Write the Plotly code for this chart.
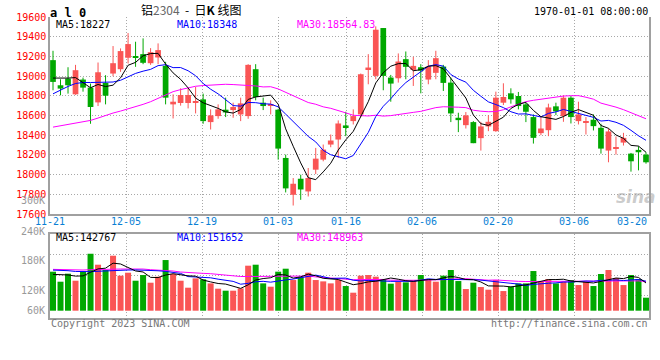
import plotly.graph_objects as go

# ---------------- data ----------------
tick_labels = ["11-21", "12-05", "12-19", "01-03", "01-16", "02-06", "02-20", "03-06", "03-20"]
tick_index = [0, 10, 20, 30, 39, 49, 59, 69, 79]

opens = [19162, 18907, 18975, 18815, 18965, 18883, 18733, 18931, 19026, 19070,
         19186, 19203, 19223, 19131, 19189, 19104, 18713, 18727, 18727, 18733,
         18764, 18533, 18594, 18659, 18655, 18611, 18594, 19070, 18730, 18699,
         18659, 18169, 17795, 17958, 17829, 18050, 18152, 18305, 18356, 18499,
         18543, 18611, 19067, 19002, 19488, 18985, 18978, 19172, 19063, 19090,
         18965, 19033, 19097, 18934, 18577, 18502, 18533, 18370, 18489, 18441,
         18730, 18825, 18798, 18713, 18584, 18421, 18451, 18693, 18594, 18781,
         18543, 18529, 18557, 18475, 18244, 18268, 18325, 18213, 18251, 18203]
highs = [19257, 18968, 19090, 19114, 18985, 18924, 19138, 19009, 19305, 19281,
         19437, 19349, 19383, 19284, 19332, 19145, 18815, 18876, 18876, 18890,
         18822, 18662, 18713, 18781, 18730, 18781, 19121, 19121, 18781, 18754,
         18669, 18203, 17965, 17999, 18067, 18271, 18305, 18407, 18550, 18638,
         18662, 19026, 19223, 19505, 19488, 19012, 19230, 19250, 19196, 19121,
         19162, 19257, 19114, 18985, 18628, 18635, 18543, 18536, 18604, 18842,
         18927, 18876, 18839, 18730, 18611, 18594, 18720, 18730, 18805, 18798,
         18740, 18584, 18611, 18516, 18468, 18387, 18424, 18220, 18288, 18227]
lows = [18856, 18805, 18822, 18810, 18842, 18516, 18696, 18713, 18999, 19043,
        19128, 19094, 19121, 19114, 19121, 18713, 18570, 18700, 18672, 18621,
        18516, 18458, 18567, 18584, 18577, 18543, 18567, 18754, 18655, 18611,
        18152, 17819, 17686, 17744, 17778, 18006, 18135, 18278, 18169, 18390,
        18509, 18584, 18917, 18968, 18856, 18740, 18934, 18968, 18900, 18825,
        18917, 18968, 18849, 18533, 18431, 18468, 18319, 18244, 18441, 18434,
        18706, 18720, 18662, 18533, 18315, 18400, 18390, 18604, 18536, 18519,
        18509, 18407, 18448, 18213, 18125, 18203, 18295, 18030, 18043, 18111]
closes = [18941, 18873, 18907, 19060, 18883, 18686, 19039, 18801, 19131, 19254,
          19325, 19186, 19135, 19243, 19264, 18781, 18740, 18808, 18808, 18747,
          18543, 18601, 18662, 18631, 18686, 18723, 19114, 18788, 18696, 18713,
          18264, 17860, 17907, 17849, 17965, 18162, 18254, 18346, 18519, 18482,
          18594, 19019, 19087, 19471, 19002, 18924, 19148, 19094, 19104, 19056,
          19097, 19182, 18931, 18621, 18553, 18601, 18319, 18489, 18536, 18781,
          18788, 18764, 18696, 18638, 18373, 18468, 18682, 18642, 18781, 18584,
          18611, 18543, 18492, 18264, 18438, 18274, 18373, 18135, 18227, 18125]
volumes = [200800, 149300, 190500, 154400, 200800, 293400, 236800, 209400, 283100, 180200,
           195600, 154400, 183600, 144100, 175000, 260800, 188800, 154400, 118400, 166500,
           161300, 140700, 113300, 103000, 103000, 115000, 231700, 236800, 140700, 123600,
           200800, 216200, 157900, 171600, 195600, 157900, 151000, 140700, 157900, 127000,
           92700, 180200, 183600, 175000, 163000, 139000, 149300, 145900, 157900, 183600,
           163000, 149300, 180200, 209400, 152700, 111500, 144100, 121800, 108100, 157900,
           101200, 123600, 140700, 140700, 204200, 152700, 163000, 140700, 149300, 157900,
           132100, 147600, 127000, 188800, 209400, 168200, 132100, 183600, 163000, 66900]

# moving-average values at the start of the window (read off the picture,
# they depend on sessions before 11-21)
ma5_head = [18980, 18978, 18980, 18985]
ma10_head = [18820, 18860, 18895, 18925, 18935, 18935, 18935, 18935, 18940]
ma30_head = [18482, 18495, 18509, 18523, 18536, 18550, 18574, 18601, 18625, 18645,
             18666, 18689, 18713, 18740, 18774, 18808, 18842, 18863, 18883, 18897,
             18904, 18910, 18914, 18917, 18914, 18910, 18907, 18900, 18890]
vol_ma5_head = [187000, 185000, 184000, 178000]
vol_ma10_head = [209000, 208000, 206000, 202000, 200000, 201000, 203000, 205000, 207000]
vol_ma30_head = [212800, 211100, 209400, 209400, 209400, 211100, 212800, 214500, 214500, 214500,
                 214500, 216200, 214500, 211100, 209400, 207600, 204200, 199100, 195600, 193900,
                 192200, 190500, 187000, 181900, 178500, 176000, 176000, 176000, 176500]

price_legend = ["MA5:18227", "MA10:18348", "MA30:18564.83"]
volume_legend = ["MA5:142767", "MA10:151652", "MA30:148963"]
price_ticks = [17600, 17800, 18000, 18200, 18400, 18600, 18800, 19000, 19200, 19400, 19600]
volume_labels = ["300K", "240K", "180K", "120K", "60K"]

# ---------------- helpers ----------------
RED = "#fa5555"
GREEN = "#00a800"
GRID = "#a8a8a8"
BORDER = "#a0a0a0"
MONO = "DejaVu Sans Mono"

W, H = 660, 360
ML, MR, MT, MB = 50, 11, 17, 42
PW, PH = W - ML - MR, H - MT - MB


def px_x(px):
    return (px - ML) / PW


def px_y(py):
    return (H - MB - py) / PH


def moving_average(values, n, head):
    out = list(head)
    for i in range(len(head), len(values)):
        window = values[i - n + 1:i + 1]
        out.append(sum(window) / n)
    return out


n = len(closes)
xs = list(range(n))
up = [c >= o for o, c in zip(opens, closes)]
colors = [RED if u else GREEN for u in up]

ma5 = moving_average(closes, 5, ma5_head)
ma10 = moving_average(closes, 10, ma10_head)
ma30 = moving_average(closes, 30, ma30_head)
vma5 = moving_average(volumes, 5, vol_ma5_head)
vma10 = moving_average(volumes, 10, vol_ma10_head)
vma30 = moving_average(volumes, 30, vol_ma30_head)

fig = go.Figure()

# wicks
for flag, col in ((True, RED), (False, GREEN)):
    wx, wy = [], []
    for i in xs:
        if up[i] == flag:
            wx += [i, i, None]
            wy += [lows[i], highs[i], None]
    fig.add_trace(go.Scatter(x=wx, y=wy, mode="lines", line=dict(color=col, width=1),
                             hoverinfo="skip", xaxis="x", yaxis="y"))

# bodies
body_base = [min(o, c) for o, c in zip(opens, closes)]
body_h = [max(abs(c - o), 10) for o, c in zip(opens, closes)]
fig.add_trace(go.Bar(x=xs, y=body_h, base=body_base, width=0.76,
                     marker=dict(color=colors, line=dict(width=0)),
                     xaxis="x", yaxis="y"))

# price MAs
for ser, col in ((ma30, "#ff00ff"), (ma10, "#0000ff"), (ma5, "#000000")):
    fig.add_trace(go.Scatter(x=xs, y=ser, mode="lines", line=dict(color=col, width=1),
                             xaxis="x", yaxis="y"))

# volume
fig.add_trace(go.Bar(x=xs, y=volumes, width=0.8,
                     marker=dict(color=colors, line=dict(width=0)),
                     xaxis="x2", yaxis="y2"))
for ser, col in ((vma30, "#ff00ff"), (vma10, "#0000ff"), (vma5, "#000000")):
    fig.add_trace(go.Scatter(x=xs, y=ser, mode="lines", line=dict(color=col, width=1),
                             xaxis="x2", yaxis="y2"))

# ---------------- layout ----------------
grid_x = [i * 7.6 / 7.506 - 0.4 for i in tick_index]
xrange = [-0.4, 79.4]
main_dom = [px_y(214), 1.0]
vol_dom = [0.0, px_y(234.3)]

common_x = dict(range=xrange, tickvals=grid_x, showticklabels=False, showgrid=True,
                gridcolor=GRID, griddash="1px,2px", gridwidth=1, zeroline=False,
                showline=True, linecolor=BORDER, linewidth=1.5, ticks="", fixedrange=True,
                automargin=False)

annotations = []
# date labels
for k, (lab, gx) in enumerate(zip(tick_labels, grid_x)):
    last = k == len(tick_labels) - 1
    annotations.append(dict(x=min(gx, xrange[1]), xref="x", y=px_y(221.7), yref="paper",
                            text=lab, showarrow=False, xanchor="right" if last else "center",
                            yanchor="middle",
                            font=dict(family=MONO, size=10, color="#0a7fd4")))
# volume axis labels
for lab, py in zip(volume_labels, [200.7, 231.0, 260.3, 290.3, 310.3]):
    annotations.append(dict(x=px_x(47), xref="paper", xanchor="right",
                            y=px_y(py), yref="paper", yanchor="middle",
                            text=lab, showarrow=False,
                            font=dict(family=MONO, size=10, color="#999999")))

# legends inside panels
for txt, px_, col in zip(price_legend, [54, 174.5, 295], ["#000000", "#0000ff", "#ff00ff"]):
    annotations.append(dict(x=px_x(px_), xref="paper", xanchor="left",
                            y=px_y(24), yref="paper", yanchor="middle",
                            text=txt, showarrow=False,
                            font=dict(family=MONO, size=10, color=col)))
for txt, px_, col in zip(volume_legend, [54, 174.5, 295], ["#000000", "#0000ff", "#ff00ff"]):
    annotations.append(dict(x=px_x(px_), xref="paper", xanchor="left",
                            y=px_y(237.7), yref="paper", yanchor="middle",
                            text=txt, showarrow=False,
                            font=dict(family=MONO, size=10, color=col)))

# header
annotations.append(dict(x=px_x(48), xref="paper", xanchor="left",
                        y=px_y(12.5), yref="paper", yanchor="middle",
                        text="<b>a l 0</b>", showarrow=False,
                        font=dict(family=MONO, size=12, color="#000000")))
annotations.append(dict(x=px_x(139), xref="paper", xanchor="left",
                        y=px_y(9.5), yref="paper", yanchor="middle",
                        text="铝<span style='color:#666666'>2304</span>&nbsp;&nbsp;-&nbsp;&nbsp;日<b>K</b>&nbsp;线图",
                        showarrow=False,
                        font=dict(family="Noto Sans CJK SC", size=12, color="#000000")))
annotations.append(dict(x=px_x(649.5), xref="paper", xanchor="right",
                        y=px_y(11.2), yref="paper", yanchor="middle",
                        text="1970-01-01 08:00:00", showarrow=False,
                        font=dict(family=MONO, size=10, color="#000000")))
# footer
annotations.append(dict(x=px_x(49), xref="paper", xanchor="left",
                        y=px_y(323.7), yref="paper", yanchor="middle",
                        text="Copyright 2023 SINA.COM", showarrow=False,
                        font=dict(family=MONO, size=10, color="#777777")))
annotations.append(dict(x=px_x(649.5), xref="paper", xanchor="right",
                        y=px_y(323.7), yref="paper", yanchor="middle",
                        text="http://finance.sina.com.cn", showarrow=False,
                        font=dict(family=MONO, size=10, color="#777777")))
# watermark
annotations.append(dict(x=px_x(636), xref="paper", xanchor="center",
                        y=px_y(197), yref="paper", yanchor="middle",
                        text="<b><i>sina</i></b>", showarrow=False,
                        font=dict(family="DejaVu Sans", size=17, color="rgba(160,160,160,0.55)")))

fig.update_layout(
    width=W, height=H,
    margin=dict(l=ML, r=MR, t=MT, b=MB, pad=0, autoexpand=False),
    paper_bgcolor="white", plot_bgcolor="white",
    showlegend=False, barmode="overlay",
    xaxis=dict(domain=[0, 1], anchor="y", mirror=False, **common_x),
    xaxis2=dict(domain=[0, 1], anchor="y2", mirror=True, **common_x),
    yaxis=dict(domain=main_dom, anchor="x", range=[17600, 19600], tickvals=price_ticks,
               ticktext=[str(t) for t in price_ticks], showgrid=True, gridcolor=GRID,
               griddash="1px,2px", zeroline=False, showline=True, mirror=True,
               linecolor=BORDER, linewidth=1.5, ticks="", automargin=False,
               tickfont=dict(family=MONO, size=10, color="#ff0000"), fixedrange=True),
    yaxis2=dict(domain=vol_dom, anchor="x2", range=[-37600, 393300],
                tickvals=[80000, 183000, 287000], showticklabels=False, showgrid=True,
                gridcolor=GRID, griddash="1px,2px", zeroline=False, showline=True,
                mirror=True, linecolor=BORDER, linewidth=1.5, ticks="", automargin=False,
                fixedrange=True),
    annotations=annotations,
)

fig.write_html(
    "out.html",
    config={"displayModeBar": False},
    post_script="document.body.style.margin='0';document.body.style.padding='0';"
                "document.body.style.overflow='hidden';",
)
